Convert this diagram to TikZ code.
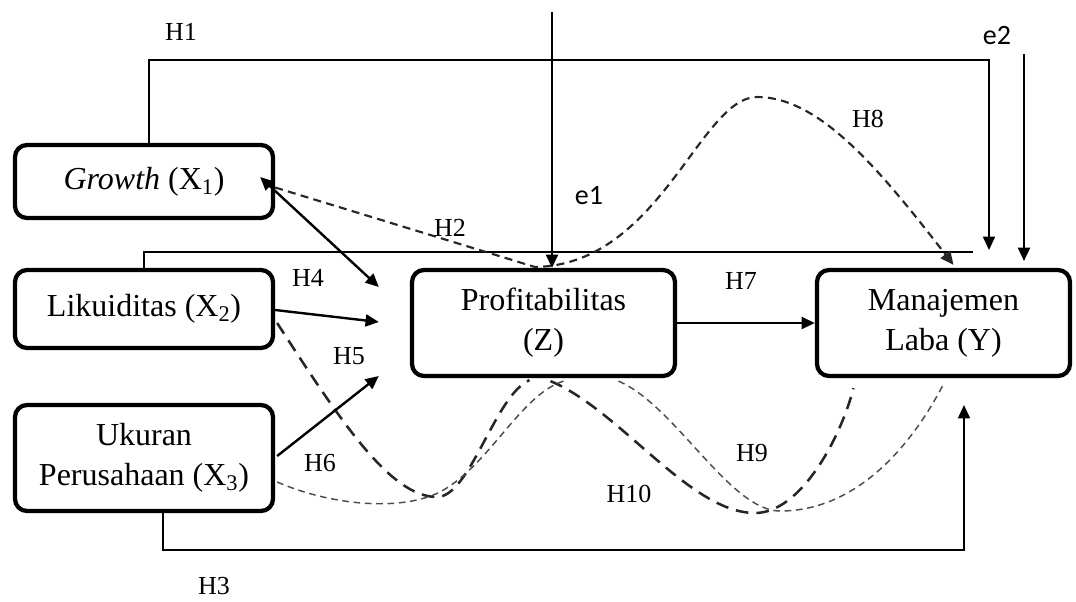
\documentclass[tikz,border=0pt]{standalone}
\usepackage{fontspec}
\setmainfont{Liberation Serif}
\newfontfamily\errfont{Carlito}
\usetikzlibrary{arrows.meta,calc}
\pgfdeclarelayer{bg}
\pgfsetlayers{bg,main}
\begin{document}
\begin{tikzpicture}[x=0.75pt,y=-0.75pt,
  varbox/.style={draw, line width=3.2pt, rounded corners=9pt, fill=white, align=center,
    inner sep=0pt, font=\fontsize{24}{30}\selectfont},
  hlabel/.style={inner sep=0pt, font=\fontsize{19.5}{23}\selectfont},
  elabel/.style={inner sep=0pt, font=\errfont\fontsize{21}{25}\selectfont},
  tip/.style={-{Triangle[length=10pt,width=9pt]}},
  bitip/.style={{Triangle[length=10pt,width=9pt]}-{Triangle[length=10pt,width=9pt]}},
  solidarrow/.style={line width=1.8pt, tip},
  thinline/.style={line width=1.3pt},
  dashmid/.style={line width=1.6pt, dash pattern=on 6pt off 4pt, black!85},
  dashthick/.style={line width=1.9pt, dash pattern=on 9.5pt off 6pt, black!85},
  dashthin/.style={line width=1.1pt, dash pattern=on 5pt off 3.5pt, black!70},
]
\useasboundingbox (0,0) rectangle (1076,601);

% variables
\node[varbox, minimum width=193.5pt, minimum height=54.75pt] (growth) at (144,181.5)
  {\textit{Growth} (X\textsubscript{1})};
\node[varbox, minimum width=193.5pt, minimum height=58.5pt] (likuid) at (144,309)
  {Likuiditas (X\textsubscript{2})};
\node[varbox, minimum width=193.5pt, minimum height=79.5pt] (ukuran) at (144,458)
  {Ukuran\\Perusahaan (X\textsubscript{3})};
\node[varbox, minimum width=197.25pt, minimum height=79.5pt] (profit) at (543.5,323)
  {Profitabilitas\\(Z)};
\node[varbox, minimum width=189.75pt, minimum height=79.5pt] (manaj) at (943.5,323)
  {Manajemen\\Laba (Y)};

% bend points and free ends
\coordinate (h1up) at (149,60);
\coordinate (h1right) at (989,60);
\coordinate (h1tip) at (989,250);
\coordinate (e1top) at (552,12);
\coordinate (e2top) at (1024,54);
\coordinate (e2tip) at (1024,261);
\coordinate (x2up) at (144,252);
\coordinate (x2end) at (973,252);
\coordinate (h3down) at (163,550);
\coordinate (h3right) at (964,550);
\coordinate (h3tip) at (964,405);

% H1: Growth -> Manajemen Laba
\draw[thinline, tip] (growth.north -| h1up) -- (h1up) -- (h1right) -- (h1tip);
% H2: Likuiditas -> Manajemen Laba
\draw[thinline] (likuid.north) -- (x2up) -- (x2end);
% H3: Ukuran Perusahaan -> Manajemen Laba
\draw[thinline, tip] (ukuran.south -| h3down) -- (h3down) -- (h3right) -- (h3tip);

% error terms
\draw[solidarrow] (e1top) -- (e1top |- profit.north);
\draw[solidarrow] (e2top) -- (e2tip);

% H4, H5, H6: independent variables -> Profitabilitas
\draw[line width=1.8pt, bitip] ($(growth.east)+(-15,-4.5)$) -- ($(profit.west)+(-31,-36)$);
\draw[solidarrow] ($(likuid.east)+(0,1)$) -- ($(profit.west)+(-31,-1)$);
\draw[solidarrow] ($(ukuran.east)+(2,-2)$) -- ($(profit.west)+(-31,53)$);

% H7: Profitabilitas -> Manajemen Laba
\draw[solidarrow] (profit.east) -- (manaj.west);

% H8: Growth -> Profitabilitas -> Manajemen Laba
\draw[dashmid, tip] ($(growth.east)+(0,6)$) -- (535,267)
  .. controls (660,265) and (700,97) .. (757,97)
  .. controls (820,97) and (880,170) .. ($(manaj.north)+(10,-3)$);

% indirect paths below the boxes
\begin{pgfonlayer}{bg}
  % H10: Likuiditas -> Profitabilitas -> Manajemen Laba
  \draw[dashthick] ($(likuid.east)+(2,14)$)
    .. controls (340,420) and (390,497) .. (437,497)
    .. controls (470,497) and (495,395) .. ($(profit.south)+(-14,2)$);
  \draw[dashthick] ($(profit.south)+(7,3)$)
    .. controls (620,410) and (690,513) .. (755,513)
    .. controls (800,513) and (840,440) .. ($(manaj.south)+(-90,10)$);
  % H9: Ukuran Perusahaan -> Profitabilitas -> Manajemen Laba
  \draw[dashthin] ($(ukuran.east)+(2,24)$)
    .. controls (330,505) and (400,512) .. (440,492)
    .. controls (490,465) and (520,395) .. ($(profit.south)+(20,3)$);
  \draw[dashthin] ($(profit.south)+(75,3)$)
    .. controls (675,405) and (730,511) .. (780,511)
    .. controls (860,511) and (915,440) .. ($(manaj.south)+(1,4)$);
\end{pgfonlayer}

% hypothesis labels
\node[hlabel] (lh1) at (181,32) {H1};
\node[hlabel] (lh2) at (450,228) {H2};
\node[hlabel] (lh3) at (214,586) {H3};
\node[hlabel] (lh4) at (308,278) {H4};
\node[hlabel] (lh5) at (349,356) {H5};
\node[hlabel] (lh6) at (320,463) {H6};
\node[hlabel] (lh7) at (741,281) {H7};
\node[hlabel] (lh8) at (868,119) {H8};
\node[hlabel] (lh9) at (752,453) {H9};
\node[hlabel] (lh10) at (629,494) {H10};
\node[elabel] (le1) at (589,196) {e1};
\node[elabel] (le2) at (997,36) {e2};
\end{tikzpicture}
\end{document}
